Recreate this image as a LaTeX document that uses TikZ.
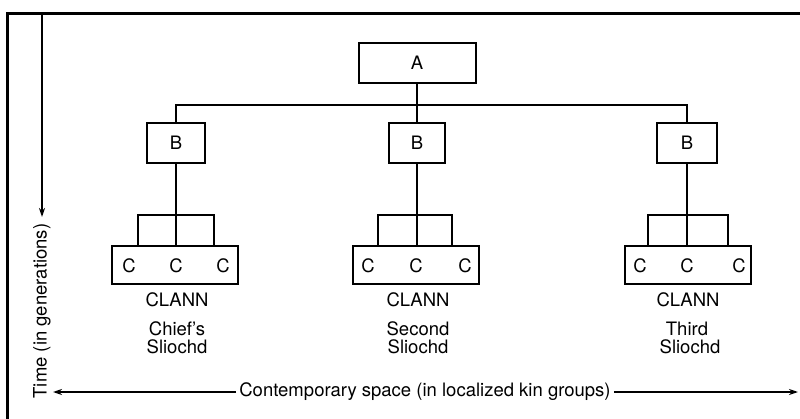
\documentclass[tikz,border=0pt]{standalone}
\usepackage{fontspec}
\setmainfont{TeX Gyre Heros}
\usetikzlibrary{arrows.meta}
\begin{document}
\begin{tikzpicture}[x=1pt,y=-1pt,
  box/.style={draw, line width=2pt, inner sep=0pt, outer sep=0pt, font=\fontsize{18.5}{20}\selectfont},
  bracket/.style={draw, line width=1.9pt, inner sep=0pt, outer sep=0pt},
  conn/.style={line width=1.8pt},
  lab/.style={inner sep=0pt, font=\fontsize{18.5}{20}\selectfont},
  axis/.style={line width=1.5pt},
  tip/.style={-{Stealth[length=9pt,width=6pt]}}]
\useasboundingbox (0,0) rectangle (800,419);
\clip (0,0) rectangle (800,419);
% frame
\draw[line width=2.2pt] (7.5,425) -- (7.5,13.5) -- (805,13.5);
% top node
\node[box, minimum width=117, minimum height=40] (A) at (417,63) {A};
\coordinate (bar) at (417,105);
% B nodes
\node[box, minimum width=58, minimum height=40] (B1) at (176,143) {B};
\node[box, minimum width=56, minimum height=40] (B2) at (417,143) {B};
\node[box, minimum width=60, minimum height=40] (B3) at (687,143) {B};
\draw[conn] (A.south) -- (bar);
\draw[conn] (B1.north) |- (bar) -| (B3.north);
\draw[conn] (bar) -- (B2.north);
% brackets
\node[bracket, minimum width=76, minimum height=31] (K1) at (176,230.5) {};
\node[bracket, minimum width=74, minimum height=31] (K2) at (415,230.5) {};
\node[bracket, minimum width=80, minimum height=31] (K3) at (688,230.5) {};
% C boxes
\node[box, minimum width=126, minimum height=38] (C1) at (175,265) {};
\node[box, minimum width=126, minimum height=38] (C2) at (416,265) {};
\node[box, minimum width=126, minimum height=38] (C3) at (688,265) {};
\draw[conn] (B1.south) -- (B1.south |- C1.north);
\draw[conn] (B2.south) -- (B2.south |- C2.north);
\draw[conn] (B3.south) -- (B3.south |- C3.north);
% C letters
\node[lab] (c11) at (129,266) {C};
\node[lab] (c12) at (176,266) {C};
\node[lab] (c13) at (223,266) {C};
\node[lab] (c21) at (368,266) {C};
\node[lab] (c22) at (416,266) {C};
\node[lab] (c23) at (465,266) {C};
\node[lab] (c31) at (640,266) {C};
\node[lab] (c32) at (687,266) {C};
\node[lab] (c33) at (739,266) {C};
% labels
\node[lab] (cl1) at (177,300) {CLANN};
\node[lab] (cl2) at (418,300) {CLANN};
\node[lab] (cl3) at (688,300) {CLANN};
\node[lab] (n1) at (177,329) {Chief's};
\node[lab] (n2) at (418,329) {Second};
\node[lab] (n3) at (687,329) {Third};
\node[lab] (s1) at (177,347) {Sliochd};
\node[lab] (s2) at (418,347) {Sliochd};
\node[lab] (s3) at (690,347) {Sliochd};
% time axis
\coordinate (tt) at (42,13.5);
\coordinate (tb) at (42,217);
\draw[axis,tip] (tt) -- (tb);
\node[lab, rotate=90] (time) at (42,311) {Time (in generations)};
% space axis
\coordinate (sl) at (53,392);
\coordinate (sr) at (798,392);
\node[lab, inner sep=3pt, font=\fontsize{18.5}{20}\selectfont] (space) at (425,392) {Contemporary space (in localized kin groups)};
\draw[axis,tip] (space.west) -- (sl);
\draw[axis,tip] (space.east) -- (sr);
\end{tikzpicture}
\end{document}
